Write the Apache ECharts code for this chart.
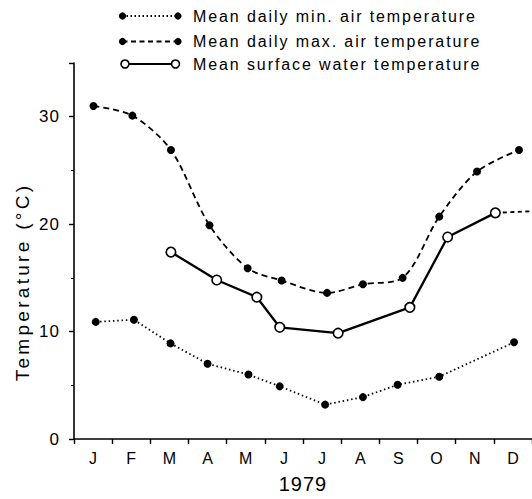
<!DOCTYPE html>
<html>
<head>
<meta charset="utf-8">
<script src="https://cdn.jsdelivr.net/npm/echarts@6/dist/echarts.min.js"></script>
<style>
html,body{margin:0;padding:0;background:#fff;}
#c{width:532px;height:499px;}
</style>
</head>
<body>
<div id="c"></div>
<script>
// ---- data ----
const monthLabels = ['J','F','M','A','M','J','J','A','S','O','N','D'];
const yTicks = [0, 10, 20, 30];
// x positions in months from 1 Jan (0..12)
const maxX = [0.51, 1.53, 2.54, 3.55, 4.55, 5.44, 6.63, 7.57, 8.61, 9.57, 10.56, 11.66];
const maxY = [31.0, 30.1, 26.9, 19.9, 15.9, 14.75, 13.6, 14.4, 15.0, 20.7, 24.9, 26.9];
const minX = [0.57, 1.57, 2.53, 3.50, 4.57, 5.39, 6.58, 7.57, 8.48, 9.57, 11.53];
const minY = [10.9, 11.1, 8.9, 7.0, 6.0, 4.9, 3.2, 3.9, 5.05, 5.8, 9.0];
const waterX = [2.54, 3.74, 4.79, 5.39, 6.92, 8.80, 9.79, 11.04];
const waterY = [17.4, 14.8, 13.2, 10.4, 9.85, 12.25, 18.8, 21.05];
const waterExtX = [11.04, 11.97];
const waterExtY = [21.05, 21.2];
const seriesNames = ['Mean daily min. air temperature', 'Mean daily max. air temperature', 'Mean surface water temperature'];
const xTitle = '1979';
const yTitle = 'Temperature (°C)';

const pairs = (xs, ys) => xs.map((x, i) => [x, ys[i]]);
const FONT = '"Liberation Sans", Arial, sans-serif';
const INK = '#000';

const chart = echarts.init(document.getElementById('c'), null, {renderer: 'svg'});

function legendRow(y, dash, open, label) {
  const els = [];
  els.push({type: 'line', shape: {x1: 122.5, y1: y, x2: 177.5, y2: y},
    style: {stroke: INK, lineWidth: open ? 2.2 : 1.8, lineDash: dash}});
  if (open) {
    els.push({type: 'circle', shape: {cx: 125, cy: y, r: 4}, style: {fill: '#fff', stroke: INK, lineWidth: 1.6}});
    els.push({type: 'circle', shape: {cx: 175.5, cy: y, r: 4}, style: {fill: '#fff', stroke: INK, lineWidth: 1.6}});
  } else {
    els.push({type: 'circle', shape: {cx: 122.5, cy: y, r: 3.6}, style: {fill: INK}});
    els.push({type: 'circle', shape: {cx: 178, cy: y, r: 3.6}, style: {fill: INK}});
  }
  els.push({type: 'text', x: 193, y: y, style: {text: label, fill: INK, fontSize: 16, fontFamily: FONT,
    align: 'left', verticalAlign: 'middle'}});
  return els;
}

const graphicEls = []
  .concat(legendRow(16, [1.5, 2.5], false, seriesNames[0]))
  .concat(legendRow(41.5, [5, 3.5], false, seriesNames[1]))
  .concat(legendRow(64, null, true, seriesNames[2]));
graphicEls.push({type: 'text', x: 22, y: 282, rotation: Math.PI / 2,
  style: {text: yTitle, fill: INK, fontSize: 19, fontFamily: FONT, align: 'center', verticalAlign: 'middle'}});

const option = {
  animation: false,
  backgroundColor: '#fff',
  grid: {left: 74, right: -2, top: 63, bottom: 56, containLabel: false},
  xAxis: [
    {type: 'category', data: monthLabels, boundaryGap: true, position: 'bottom', offset: 1,
      axisLine: {show: true, lineStyle: {color: INK, width: 1.6}},
      axisTick: {show: true, length: 5, interval: 0, alignWithLabel: false, lineStyle: {color: INK, width: 1.4}},
      axisLabel: {show: true, interval: 0, margin: 10, color: INK, fontSize: 16, fontFamily: FONT},
      splitLine: {show: false},
      name: xTitle, nameLocation: 'middle', nameGap: 34,
      nameTextStyle: {color: INK, fontSize: 20, fontFamily: FONT}},
    {type: 'value', min: 0, max: 12, show: false, position: 'bottom'}
  ],
  yAxis: {type: 'value', min: 0, max: 35, interval: 10, offset: 6,
    axisLine: {show: true, lineStyle: {color: INK, width: 1.6}},
    axisTick: {show: true, length: 5, lineStyle: {color: INK, width: 1.4}},
    minorTick: {show: true, splitNumber: 2, length: 3, lineStyle: {color: INK, width: 1}},
    axisLabel: {color: INK, fontSize: 17, fontFamily: FONT, margin: 8,
      formatter: v => (yTicks.indexOf(v) >= 0 ? String(v) : '')},
    splitLine: {show: false}, minorSplitLine: {show: false}},
  graphic: graphicEls,
  series: [
    {name: seriesNames[0], type: 'line', xAxisIndex: 1, data: pairs(minX, minY),
      symbol: 'circle', symbolSize: 8, itemStyle: {color: INK},
      lineStyle: {color: INK, width: 1.8, type: [1.5, 2.8]}},
    {name: seriesNames[1], type: 'line', xAxisIndex: 1, data: pairs(maxX, maxY), smooth: 0.3,
      symbol: 'circle', symbolSize: 8, itemStyle: {color: INK},
      lineStyle: {color: INK, width: 1.8, type: [6, 4]}},
    {name: seriesNames[2], type: 'line', xAxisIndex: 1, data: pairs(waterX, waterY),
      symbol: 'circle', symbolSize: 9.5, z: 3, itemStyle: {color: '#fff', borderColor: INK, borderWidth: 1.6},
      lineStyle: {color: INK, width: 2.3}},
    {name: 'water-ext', type: 'line', xAxisIndex: 1, data: pairs(waterExtX, waterExtY),
      symbol: 'none', z: 2, lineStyle: {color: INK, width: 1.8, type: [4, 3.5]}}
  ]
};
chart.setOption(option);

function spaceText() {
  document.querySelectorAll('#c svg text').forEach(t => {
    const s = t.textContent;
    if (s === yTitle) t.setAttribute('letter-spacing', '3.3px');
    else if (seriesNames.indexOf(s) >= 0) t.setAttribute('letter-spacing', '1.9px');
    else if (s === xTitle) t.setAttribute('letter-spacing', '1px');
    else if (/^\d+$/.test(s)) t.setAttribute('letter-spacing', '1px');
  });
}
spaceText();
chart.on('finished', spaceText);
</script>
</body>
</html>
